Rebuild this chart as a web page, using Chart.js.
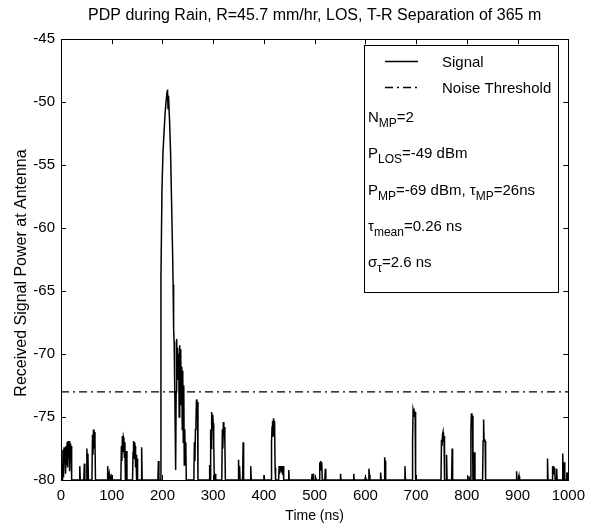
<!DOCTYPE html>
<html>
<head>
<meta charset="utf-8">
<script src="https://cdn.jsdelivr.net/npm/chart.js@4.4.1/dist/chart.umd.min.js"></script>
<style>
  html, body { margin: 0; padding: 0; background: #fff; }
  #wrap { width: 592px; height: 529px; }
</style>
</head>
<body>
<div id="wrap"><canvas id="c" width="592" height="529"></canvas></div>
<script>
// ---- data ----
const chartTitle = 'PDP during Rain, R=45.7 mm/hr, LOS, T-R Separation of 365 m';
const xTitle = 'Time (ns)';
const yTitle = 'Received Signal Power at Antenna';
const xTicks = [0, 100, 200, 300, 400, 500, 600, 700, 800, 900, 1000];
const yTicks = [-45, -50, -55, -60, -65, -70, -75, -80];

const signalTime = [
  0, 3, 4, 5, 6, 7, 8, 9, 10, 11, 12, 13, 14, 15, 16, 17, 18, 19, 20, 21,
  36, 37, 38, 45, 46, 47, 50, 51, 52, 53, 54, 61, 62, 63, 64, 65, 66, 67, 68,
  91, 92, 93, 95, 96, 99, 100, 118, 119, 120, 121, 122, 123, 124, 125, 126, 127,
  128, 129, 130, 141, 142, 143, 144, 145, 146, 147, 148, 149, 150, 151, 158, 159, 160,
  191, 192, 193, 196, 197, 199, 201, 203, 205, 207, 209, 210, 211, 212, 214, 216, 218,
  220, 221, 222, 223, 224, 226, 227, 228, 229, 230, 231, 232, 233, 234, 235, 236, 237,
  238, 239, 240, 241, 242, 243, 244, 245, 246, 247,
  261, 262, 263, 264, 265, 266, 267, 268, 269, 270,
  292, 293, 294, 295, 296, 297, 298, 299, 300, 301, 302, 303, 304, 305,
  317, 318, 319, 320, 321, 322, 323, 324,
  349, 350, 351, 352, 353, 358, 359, 360, 373, 374, 375, 399, 400, 401,
  414, 415, 416, 417, 418, 419, 420, 421, 422, 423,
  429, 430, 431, 432, 433, 434, 435, 436, 437, 438, 439, 448, 449, 450,
  494, 495, 496, 497, 498, 501, 502, 503, 509, 510, 511, 512, 513, 514, 515, 520, 521, 522,
  550, 551, 552, 576, 577, 578, 599, 600, 601, 606, 607, 608, 609, 629, 630, 631,
  637, 638, 639, 640, 677, 678, 679,
  692, 693, 694, 695, 696, 697, 698, 699,
  749, 750, 751, 752, 753, 754, 755, 756, 759, 760, 761, 770, 771, 772,
  803, 804, 805, 807, 808, 809, 810, 811, 812, 814, 815, 816,
  831, 832, 833, 834, 835, 836, 837,
  897, 898, 899, 902, 903, 904, 958, 959, 960,
  968, 969, 970, 971, 972, 973, 974, 976, 977, 978,
  988, 989, 990, 991, 992, 993, 996, 997, 998, 999, 1000
];
const signalPower = [
  -80, -80, -77.6, -79.8, -77.4, -78.6, -77.5, -79.5, -77.3, -78.8, -77.0, -79.0, -76.9, -78.2, -76.9, -79.3, -77.1, -78.4, -77.3, -80,
  -80, -78.9, -80, -80, -78.7, -80, -80, -77.5, -79.5, -77.9, -80, -80, -76.4, -78, -76.0, -77.5, -76.2, -77.0, -80,
  -80, -78.9, -80, -79.5, -80, -79.7, -80, -80, -77.3, -78.5, -76.5, -77.8, -76.6, -76.8, -78.2, -77.0, -80,
  -80, -77.7, -80, -80, -77.8, -76.9, -78.3, -77.0, -77.3, -79, -78.0, -80, -78.3, -80, -80, -77.4, -80,
  -80, -78.5, -80, -80, -64, -57, -54, -52.5, -51, -50, -49.2, -49, -50.5, -49.5, -51.5, -54, -58,
  -62, -64.5, -68, -69, -72, -79.2, -73, -68.8, -70.5, -69.5, -72, -70, -75, -69.3, -73.5, -69.6, -74,
  -71, -76, -71.3, -77, -72.5, -78.8, -76, -78.5, -77, -80,
  -80, -79.4, -77, -78.5, -76, -75.5, -73.6, -74.5, -73.8, -80,
  -80, -78.8, -80, -76, -77.5, -74.6, -76, -74.8, -75.5, -77, -79.5, -80, -79.5, -80,
  -80, -76, -77.5, -75.4, -76.5, -75.8, -77, -80,
  -80, -78.4, -80, -78.9, -80, -80, -77, -80, -80, -78.9, -80, -80, -79.6, -80,
  -80, -77, -75.8, -75.3, -76.5, -75.1, -76, -75.3, -79, -80,
  -80, -78.9, -79.5, -78.9, -79.3, -78.9, -79.4, -79.0, -79.6, -78.9, -80, -80, -79.2, -80,
  -80, -79.5, -80, -79.5, -80, -80, -79.8, -80, -80, -78.6, -79.2, -78.5, -78.8, -78.6, -80, -80, -79.1, -80,
  -80, -79.5, -80, -80, -79.5, -80, -80, -79.8, -80, -80, -79.1, -79.6, -80, -80, -79.4, -80,
  -80, -78.2, -78.5, -80, -80, -78.9, -80,
  -80, -77, -74.4, -74.6, -74.5, -75, -74.6, -80,
  -80, -76.8, -77.3, -76.4, -76.2, -77, -76.5, -80, -80, -78, -80, -80, -77.5, -80,
  -80, -79.7, -80, -80, -76, -74.7, -75.5, -74.9, -80, -80, -77.8, -80,
  -80, -76.9, -75.2, -76.9, -76.8, -76.9, -80,
  -80, -79.3, -80, -80, -79.7, -80, -80, -78.3, -80,
  -80, -78.9, -79.3, -78.9, -79.5, -79, -80, -80, -79.1, -80,
  -80, -77.9, -80, -80, -78.6, -80, -80, -79.4, -79.6, -79.4, -80
];
const noiseTime = [0, 1000];
const noiseLevel = [-73, -73];

const legendItems = ['Signal', 'Noise Threshold'];
// stat lines: arrays of [text, isSubscript]
const statLines = [
  [['N', false], ['MP', true], ['=2', false]],
  [['P', false], ['LOS', true], ['=-49 dBm', false]],
  [['P', false], ['MP', true], ['=-69 dBm, ', false], ['\u03C4', false], ['MP', true], ['=26ns', false]],
  [['\u03C4', false], ['mean', true], ['=0.26 ns', false]],
  [['\u03C3', false], ['\u03C4', true], ['=2.6 ns', false]]
];

// ---- build ----
const FONT = 'Liberation Sans, Arial, sans-serif';
const signalData = signalTime.map((t, i) => ({ x: t, y: signalPower[i] }));
const noiseData = noiseTime.map((t, i) => ({ x: t, y: noiseLevel[i] }));

const framePlugin = {
  id: 'frame',
  afterDraw(chart) {
    const { ctx, chartArea: a, scales } = chart;
    ctx.save();
    ctx.strokeStyle = '#000';
    ctx.lineWidth = 1;
    ctx.strokeRect(Math.round(a.left) + 0.5, Math.round(a.top) + 0.5,
      Math.round(a.right - a.left), Math.round(a.bottom - a.top));
    const L = 5;
    ctx.beginPath();
    xTicks.forEach(v => {
      const x = Math.round(scales.x.getPixelForValue(v)) + 0.5;
      ctx.moveTo(x, a.top); ctx.lineTo(x, a.top + L);
      ctx.moveTo(x, a.bottom); ctx.lineTo(x, a.bottom - L);
    });
    yTicks.forEach(v => {
      const y = Math.round(scales.y.getPixelForValue(v)) + 0.5;
      ctx.moveTo(a.left, y); ctx.lineTo(a.left + L, y);
      ctx.moveTo(a.right, y); ctx.lineTo(a.right - L, y);
    });
    ctx.stroke();

    // y axis title
    ctx.save();
    ctx.fillStyle = '#000';
    ctx.font = '16px ' + FONT;
    ctx.textAlign = 'center';
    ctx.textBaseline = 'middle';
    ctx.translate(22, 273);
    ctx.rotate(-Math.PI / 2);
    ctx.fillText(yTitle, 0, 0);
    ctx.restore();

    // legend box
    const bx = 364.5, by = 45.5, bw = 194, bh = 247;
    ctx.fillStyle = '#fff';
    ctx.fillRect(bx, by, bw, bh);
    ctx.strokeRect(bx, by, bw, bh);
    ctx.fillStyle = '#000';
    ctx.textBaseline = 'alphabetic';
    ctx.textAlign = 'left';
    ctx.font = '15px ' + FONT;
    // Signal
    ctx.beginPath(); ctx.setLineDash([]); ctx.lineWidth = 1.3;
    ctx.moveTo(385, 61.5); ctx.lineTo(418, 61.5); ctx.stroke();
    ctx.fillText(legendItems[0], 442, 67);
    ctx.beginPath(); ctx.setLineDash([8, 4, 2, 4]);
    ctx.moveTo(385, 87.5); ctx.lineTo(418, 87.5); ctx.stroke();
    ctx.setLineDash([]);
    ctx.fillText(legendItems[1], 442, 93);
    const baseYs = [122, 158, 195, 231, 267];
    statLines.forEach((line, i) => {
      let x = 368;
      line.forEach(([txt, sub]) => {
        if (sub) {
          ctx.font = '12px ' + FONT;
          ctx.fillText(txt, x, baseYs[i] + 5);
        } else {
          ctx.font = '15px ' + FONT;
          ctx.fillText(txt, x, baseYs[i]);
        }
        x += ctx.measureText(txt).width;
      });
    });
    ctx.restore();
  }
};

new Chart(document.getElementById('c'), {
  type: 'line',
  data: {
    datasets: [
      { label: legendItems[0], data: signalData, borderColor: '#000', borderWidth: 1.5,
        pointRadius: 0, tension: 0, fill: false },
      { label: legendItems[1], data: noiseData, borderColor: '#000', borderWidth: 1.3,
        borderDash: [8, 4, 2, 4], pointRadius: 0, tension: 0, fill: false }
    ]
  },
  options: {
    responsive: false,
    animation: false,
    events: [],
    layout: { padding: { left: 0, right: 22, top: 0, bottom: 0 } },
    plugins: {
      legend: { display: false },
      tooltip: { enabled: false },
      title: {
        display: true, text: chartTitle, color: '#000', fullSize: false,
        font: { family: FONT, size: 16, weight: 'normal' },
        padding: { top: 6, bottom: 14 }
      }
    },
    scales: {
      x: {
        type: 'linear', min: 0, max: 1000,
        afterFit(s) { s.height = 49; },
        afterBuildTicks(s) { s.ticks = xTicks.map(v => ({ value: v })); },
        grid: { display: false, drawTicks: false },
        border: { display: false },
        ticks: { color: '#000', font: { family: FONT, size: 15 }, padding: 7, maxRotation: 0, autoSkip: false,
          callback: v => String(v) },
        title: { display: true, text: xTitle, color: '#000', font: { family: FONT, size: 14 }, padding: { top: 0, bottom: 4 } }
      },
      y: {
        type: 'linear', min: -80, max: -45,
        afterFit(s) { s.width = 61; },
        afterBuildTicks(s) { s.ticks = yTicks.map(v => ({ value: v })); },
        grid: { display: false, drawTicks: false },
        border: { display: false },
        ticks: { color: '#000', font: { family: FONT, size: 15 }, padding: 6, autoSkip: false,
          callback: v => String(v) },
        title: { display: false }
      }
    }
  },
  plugins: [framePlugin]
});
</script>
</body>
</html>
